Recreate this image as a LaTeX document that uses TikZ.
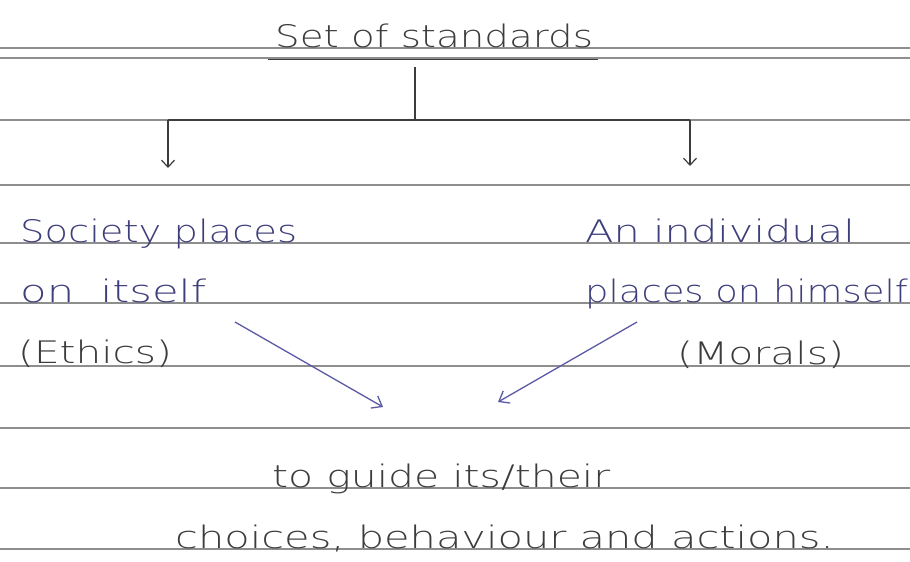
\documentclass[tikz,border=0pt]{standalone}
\usepackage{fontspec}
\usepackage{graphicx}
\newfontfamily\hand{DejaVu Sans ExtraLight}
\usetikzlibrary{arrows.meta}
\definecolor{rule}{HTML}{8E8E8E}
\definecolor{pencil}{HTML}{3C3C3C}
\definecolor{ink}{HTML}{3E3E7A}
\definecolor{inkarrow}{HTML}{5A5AA6}
% handwritten lines are wider than the typeface: stretch horizontally
\newcommand\wide[2]{\scalebox{#1}[1]{#2}}
\begin{document}
\begin{tikzpicture}[x=1pt,y=-1pt,
  ruled/.style={draw=rule,line width=1.5pt},
  note/.style={anchor=base west,inner sep=0pt,font=\hand\fontsize{31}{31}\selectfont,text=ink},
  head/.style={note,text=pencil},
  branch/.style={draw=pencil,line width=1.2pt},
  drop/.style={branch,-{Straight Barb[length=7pt,width=13pt,line width=1.2pt]}},
  link/.style={draw=inkarrow,line width=1.3pt,-{Straight Barb[length=9pt,width=14pt,line width=1.3pt]}}]
\useasboundingbox (0,0) rectangle (910,562);
\fill[white] (0,0) rectangle (910,562);
% ruled paper
\foreach \y in {48,58,120,185,243,303,366,428,488,549}
  \draw[ruled] (0,\y) -- (910,\y);
% heading
\node[head] (title) at (275,47) {\wide{1.25}{Set of standards}};
\draw[pencil,line width=1.2pt] (268,59.5) -- (598,59.5);
% branching tree
\coordinate (hub) at (415,67);
\coordinate (fork) at (415,120);
\coordinate (lb) at (168,120);
\coordinate (rb) at (690,120);
\coordinate (lt) at (168,168);
\coordinate (rt) at (690,166);
\draw[branch] (hub) -- (fork);
\draw[branch] (lb) -- (rb);
\draw[drop] (lb) -- (lt);
\draw[drop] (rb) -- (rt);
% two sources of standards
\node[note] (soc1) at (20,242) {\wide{1.24}{Society places}};
\node[note] (soc2) at (20,302) {\wide{1.4}{on\hspace{0.6em}itself}};
\node[note,text=pencil] (eth) at (18,363) {\wide{1.31}{(Ethics)}};
\node[note] (ind1) at (585,242) {\wide{1.34}{An individual}};
\node[note] (ind2) at (585,302) {\wide{1.19}{places on himself}};
\node[note,text=pencil] (mor) at (677,364) {\wide{1.32}{(Morals)}};
% purpose
\node[note,text=pencil] (g1) at (272,487) {\wide{1.32}{to guide its/their}};
\node[note,text=pencil] (g2) at (175,548) {\wide{1.34}{choices, behaviour and actions.}};
\coordinate (ls) at (235,322);
\coordinate (le) at (383,407);
\coordinate (rs) at (637,322);
\coordinate (re) at (498,402);
\draw[link] (ls) -- (le);
\draw[link] (rs) -- (re);
\end{tikzpicture}
\end{document}
